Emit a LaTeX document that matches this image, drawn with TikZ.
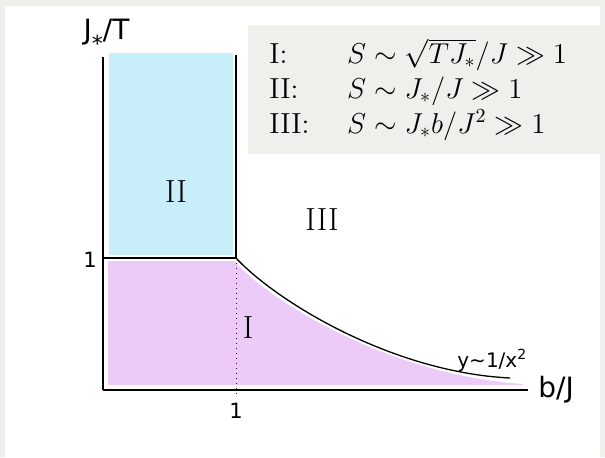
\documentclass[tikz,border=0pt]{standalone}
\usepackage{amsmath,amssymb}
\usepackage{fontspec}
\newfontfamily\axisfont{DejaVu Sans}
\usepackage{tikz}
\usetikzlibrary{positioning}
\definecolor{framegrey}{HTML}{EFEFEB}
\definecolor{regblue}{HTML}{C8EEFA}
\definecolor{regpink}{HTML}{EDCBF8}

\begin{document}
\begin{tikzpicture}[
  x=0.5pt, y=-0.5pt,
  every node/.style={inner sep=0pt},
  axlabel/.style={font=\axisfont\fontsize{14}{16}\selectfont},
  ticklabel/.style={font=\axisfont\fontsize{10.5}{12}\selectfont},
  region/.style={font=\fontsize{16}{18}\selectfont},
  legline/.style={anchor=base west, font=\fontsize{14.5}{17}\selectfont},
  bnd/.style={line width=0.65pt}
]
\fill[framegrey] (0,0) rectangle (605,457);
\fill[white] (5,6) rectangle (600,457);
\fill[framegrey] (248,25) rectangle (600,154);
\fill[regblue] (109,53) rectangle (233,255);
\fill[regpink] (108,261) -- (234,261) .. controls (272,303) and (390,375) .. (523,384) -- (523,385) -- (108,385) -- cycle;

\coordinate (O) at (103,390);
\coordinate (ytop) at (103,57);
\coordinate (xend) at (528,390);
\coordinate (yone) at (103,258);
\coordinate (P) at (236,258);
\coordinate (Ptop) at (236,55);
\coordinate (Pbot) at (236,396);
\coordinate (tail) at (510,378);

\draw[line width=1pt] (ytop) -- (O);
\draw[line width=1.2pt] (O) -- (xend);
\draw[bnd] (yone) -- (P) -- (Ptop);
\draw[bnd] (P) .. controls (275,300) and (390,372) .. (tail);
\draw[dotted, line width=0.5pt, black!70!purple] (P) -- (Pbot);

\node[legline] (legI) at (269,63) {\makebox[38.9pt][l]{I:}$S\sim\sqrt{TJ_*}/J\gg 1$};
\node[legline] (legII) at (269,98) {\makebox[38.9pt][l]{II:}$S\sim J_*/J\gg 1$};
\node[legline] (legIII) at (269,133) {\makebox[38.9pt][l]{III:}$S\sim J_*b/J^2\gg 1$};

\node[region] (rII) at (176,192) {II};
\node[region] (rIII) at (322,220) {III};
\node[region] (rI) at (248,328) {I};

\node[axlabel, anchor=base] (ylab) at (106.5,39) {J\raisebox{-0.8ex}{\fontsize{11}{12}\selectfont *}/T};
\node[axlabel, anchor=base west] (xlab) at (538,397) {b/J};
\node[ticklabel] (yonelab) at (90,260) {1};
\node[ticklabel] (xonelab) at (236,411) {1};
\node[ticklabel, font=\axisfont\fontsize{10}{12}\selectfont, anchor=base west] (curvelab) at (457,367) {y\textasciitilde 1/x\textsuperscript{2}};
\end{tikzpicture}
\end{document}
